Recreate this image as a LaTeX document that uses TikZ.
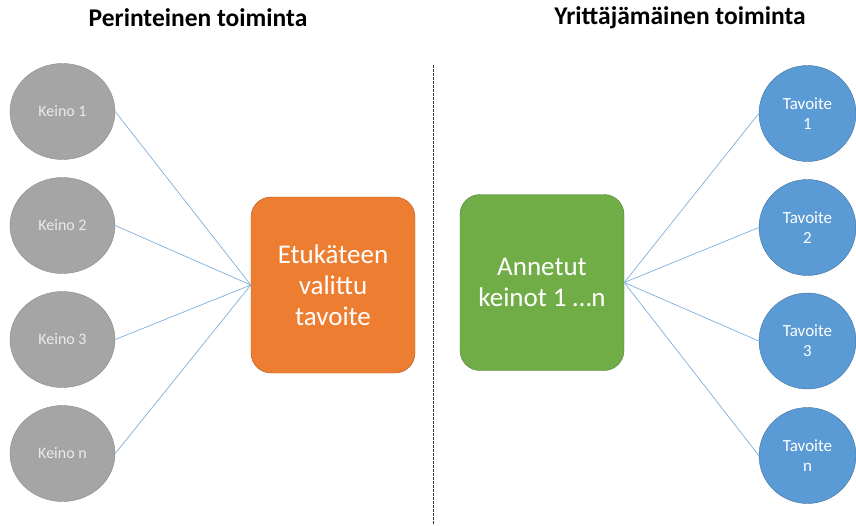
\documentclass[tikz,border=0pt]{standalone}
\usepackage{fontspec}
\setmainfont{Carlito}
\usetikzlibrary{shapes.geometric}
\definecolor{grayfill}{HTML}{A5A5A5}
\definecolor{grayline}{HTML}{8A8A8A}
\definecolor{orfill}{HTML}{ED7D31}
\definecolor{orline}{HTML}{AE5A21}
\definecolor{grfill}{HTML}{70AD47}
\definecolor{grline}{HTML}{507E32}
\definecolor{blfill}{HTML}{5B9BD5}
\definecolor{blline}{HTML}{41719C}
\definecolor{conn}{HTML}{7FAEDB}
\begin{document}
\begin{tikzpicture}[x=1pt,y=-1pt,
  title/.style={font=\fontsize{25.5}{30}\selectfont\bfseries, text=black},
  keino/.style={ellipse, draw=grayline, fill=grayfill, minimum width=105pt, minimum height=96pt, inner sep=0pt, text=white!92!black, font=\fontsize{16}{19}\selectfont},
  tavoite/.style={ellipse, draw=blline, fill=blfill, minimum width=97pt, minimum height=96pt, inner sep=0pt, text=white, align=center, font=\fontsize{17}{20}\selectfont},
  bigbox/.style={rounded corners=20pt, minimum width=164pt, minimum height=176pt, inner sep=0pt, text=white, align=center, font=\fontsize{27}{31}\selectfont},
  connector/.style={draw=conn, line width=0.7pt}]
\useasboundingbox (0,0) rectangle (856,525);
\node[title] (t1) at (198,18) {Perinteinen toiminta};
\node[title] (t2) at (680,18) {Yrittäjämäinen toiminta};
\coordinate (dtop) at (433,65);
\coordinate (dbot) at (433,525);
\draw[black!80, dash pattern=on 2.5pt off 1.5pt, line width=0.8pt] (dtop) -- (dbot);
\node[keino] (k1) at (62.5,111.5) {Keino 1};
\node[keino] (k2) at (62.5,225.5) {Keino 2};
\node[keino] (k3) at (62.5,339.5) {Keino 3};
\node[keino] (kn) at (62.5,453.5) {Keino n};
\node[bigbox, draw=orline, fill=orfill] (ob) at (333,285) {Etukäteen\\valittu\\tavoite};
\node[bigbox, draw=grline, fill=grfill] (gb) at (542,282.5) {Annetut\\keinot 1 \ldots n};
\node[tavoite] (v1) at (807.5,113.5) {Tavoite\\1};
\node[tavoite] (v2) at (807.5,227.5) {Tavoite\\2};
\node[tavoite] (v3) at (807.5,341) {Tavoite\\3};
\node[tavoite] (vn) at (807.5,455.5) {Tavoite\\n};
\foreach \k in {k1,k2,k3,kn} \draw[connector] (\k.east) -- (ob.west);
\foreach \v in {v1,v2,v3,vn} \draw[connector] (gb.east) -- (\v.west);
\end{tikzpicture}
\end{document}
